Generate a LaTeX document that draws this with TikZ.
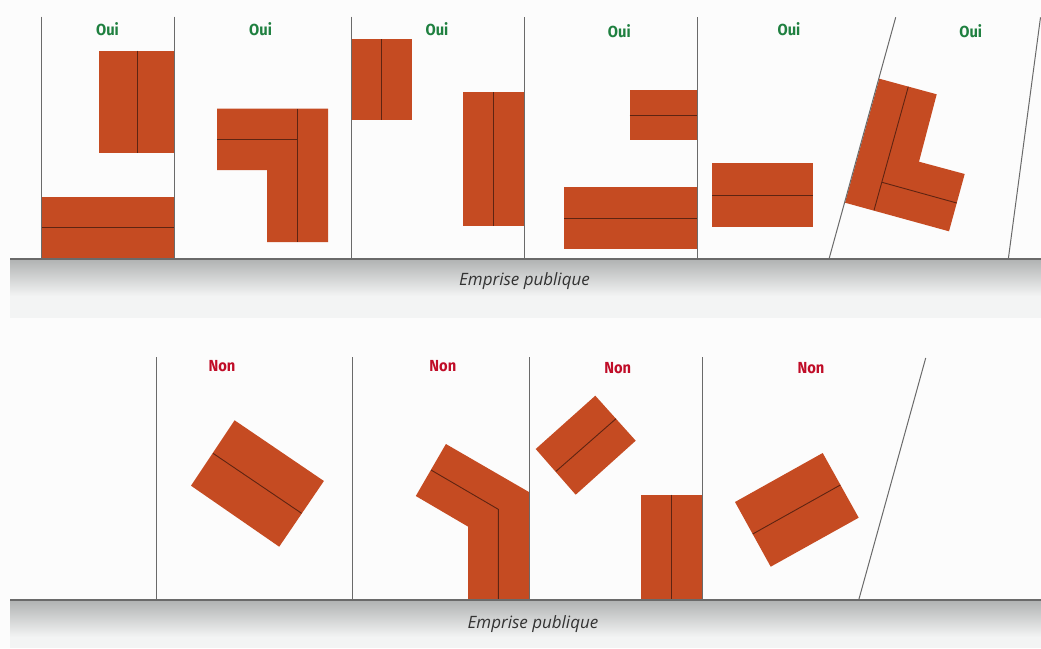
\documentclass[tikz,border=0pt]{standalone}
\usepackage{fontspec}
\setmainfont{Open Sans}
\newfontfamily\labelfont{Fira Sans}
\definecolor{brick}{HTML}{C54B22}
\definecolor{seam}{HTML}{5E2412}
\definecolor{limitline}{HTML}{6A6A6A}
\definecolor{ouigreen}{HTML}{1F8040}
\definecolor{nonred}{HTML}{C00D28}
\definecolor{bandtop}{HTML}{B0B2B2}
\definecolor{bandlow}{HTML}{F3F4F4}
\tikzset{
  bati/.style={fill=brick,draw=none},
  couture/.style={draw=seam,line width=0.9pt},
  limite/.style={draw=limitline,line width=1pt},
  sol/.style={draw=limitline,line width=1.3pt},
  oui/.style={text=ouigreen,font=\labelfont\bfseries\fontsize{16}{17}\selectfont,xscale=0.92},
  non/.style={text=nonred,font=\labelfont\bfseries\fontsize{16}{17}\selectfont,xscale=0.92},
  emprise/.style={text=black!80,font=\itshape\fontsize{17}{18}\selectfont,inner sep=0pt}
}
\begin{document}
\begin{tikzpicture}[x=1pt,y=-1pt]
\useasboundingbox (0,0) rectangle (1041,648);
\fill[white!99!black] (0,0) rectangle (1041,648);
% bands
\shade[top color=bandtop,bottom color=bandlow] (10,259) rectangle (1041,296);
\fill[bandlow] (10,296) rectangle (1041,318);
\shade[top color=bandtop,bottom color=bandlow] (10,600) rectangle (1041,637);
\fill[bandlow] (10,637) rectangle (1041,648);
% top row shapes
\fill[bati] (99.4,50.7) rectangle (174,153.3);
\draw[couture] (137,50.7) -- (137,153.3);
\fill[bati] (41.6,197.3) rectangle (174,259);
\draw[couture] (41.6,227.5) -- (174,227.5);
\fill[bati] (217,108.7) -- (328,108.7) -- (328,242) -- (267,242) -- (267,170) -- (217,170) -- cycle;
\draw[couture] (217,139.3) -- (297.8,139.3);
\draw[couture] (297.8,108.7) -- (297.8,242);
\fill[bati] (351,39) rectangle (412.4,120);
\draw[couture] (381.7,39) -- (381.7,120);
\fill[bati] (463,92.3) rectangle (524.3,225.7);
\draw[couture] (493.6,92.3) -- (493.6,225.7);
\fill[bati] (629.7,90) rectangle (697.3,139.7);
\draw[couture] (629.7,115) -- (697.3,115);
\fill[bati] (564,187.3) rectangle (697.3,248.7);
\draw[couture] (564,218) -- (697.3,218);
\fill[bati] (712.3,163.3) rectangle (813.3,227.3);
\draw[couture] (712.3,195.3) -- (813.3,195.3);
\fill[bati] (879.3,78.7) -- (936.7,94.3) -- (919,161.7) -- (964.7,174) -- (949,231.3) -- (845,202.7) -- cycle;
\draw[couture] (908.3,86.7) -- (874,210.3);
\draw[couture] (882,182.3) -- (956.7,203);
% top row limits
\draw[limite] (41.6,16.7) -- (41.6,259);
\draw[limite] (174,16.7) -- (174,259);
\draw[limite] (351,16.7) -- (351,259);
\draw[limite] (524.3,17) -- (524.3,259);
\draw[limite] (697.3,17) -- (697.3,259);
\draw[limite] (895.7,17.3) -- (829,259);
\draw[limite] (1040.5,17.3) -- (1008.3,259);
\draw[sol] (10,259) -- (1041,259);
% top labels
\node[oui] (o1) at (107.5,29.5) {Oui};
\node[oui] (o2) at (260.6,29.5) {Oui};
\node[oui] (o3) at (437,29.5) {Oui};
\node[oui] (o4) at (619.3,30.7) {Oui};
\node[oui] (o5) at (789,29.5) {Oui};
\node[oui] (o6) at (970.7,30.7) {Oui};
\node[emprise] (e1) at (524.5,281.5) {Emprise publique};
% bottom row shapes
\fill[bati] (234.6,420.3) -- (323.9,481) -- (279.2,546.7) -- (191,485.7) -- cycle;
\draw[couture] (213,453.3) -- (301.6,513.3);
\fill[bati] (445.9,444) -- (529.4,492.3) -- (529.4,600) -- (468.2,600) -- (468.2,526.7) -- (415.8,496) -- cycle;
\draw[couture] (431,470) -- (498.3,509.3) -- (498.3,600);
\fill[bati] (595.3,395.7) -- (635.7,440.7) -- (575.7,494.7) -- (535.7,449) -- cycle;
\draw[couture] (616,418.7) -- (556,471.3);
\fill[bati] (641,494.7) rectangle (702.3,600);
\draw[couture] (671.7,494.7) -- (671.7,600);
\fill[bati] (822.7,453) -- (858.7,517.7) -- (770.7,566.7) -- (735,502) -- cycle;
\draw[couture] (840.3,485) -- (752.7,534);
% bottom row limits
\draw[limite] (156.2,357.3) -- (156.2,600);
\draw[limite] (352,357.3) -- (352,600);
\draw[limite] (529.4,357.3) -- (529.4,600);
\draw[limite] (702.3,357.3) -- (702.3,600);
\draw[limite] (925.7,358) -- (858.7,600);
\draw[sol] (10,600) -- (1041,600);
% bottom labels
\node[non] (n1) at (222,366) {Non};
\node[non] (n2) at (442.9,366) {Non};
\node[non] (n3) at (617.7,368) {Non};
\node[non] (n4) at (811,368) {Non};
\node[emprise] (e2) at (533,624.5) {Emprise publique};
\end{tikzpicture}
\end{document}
